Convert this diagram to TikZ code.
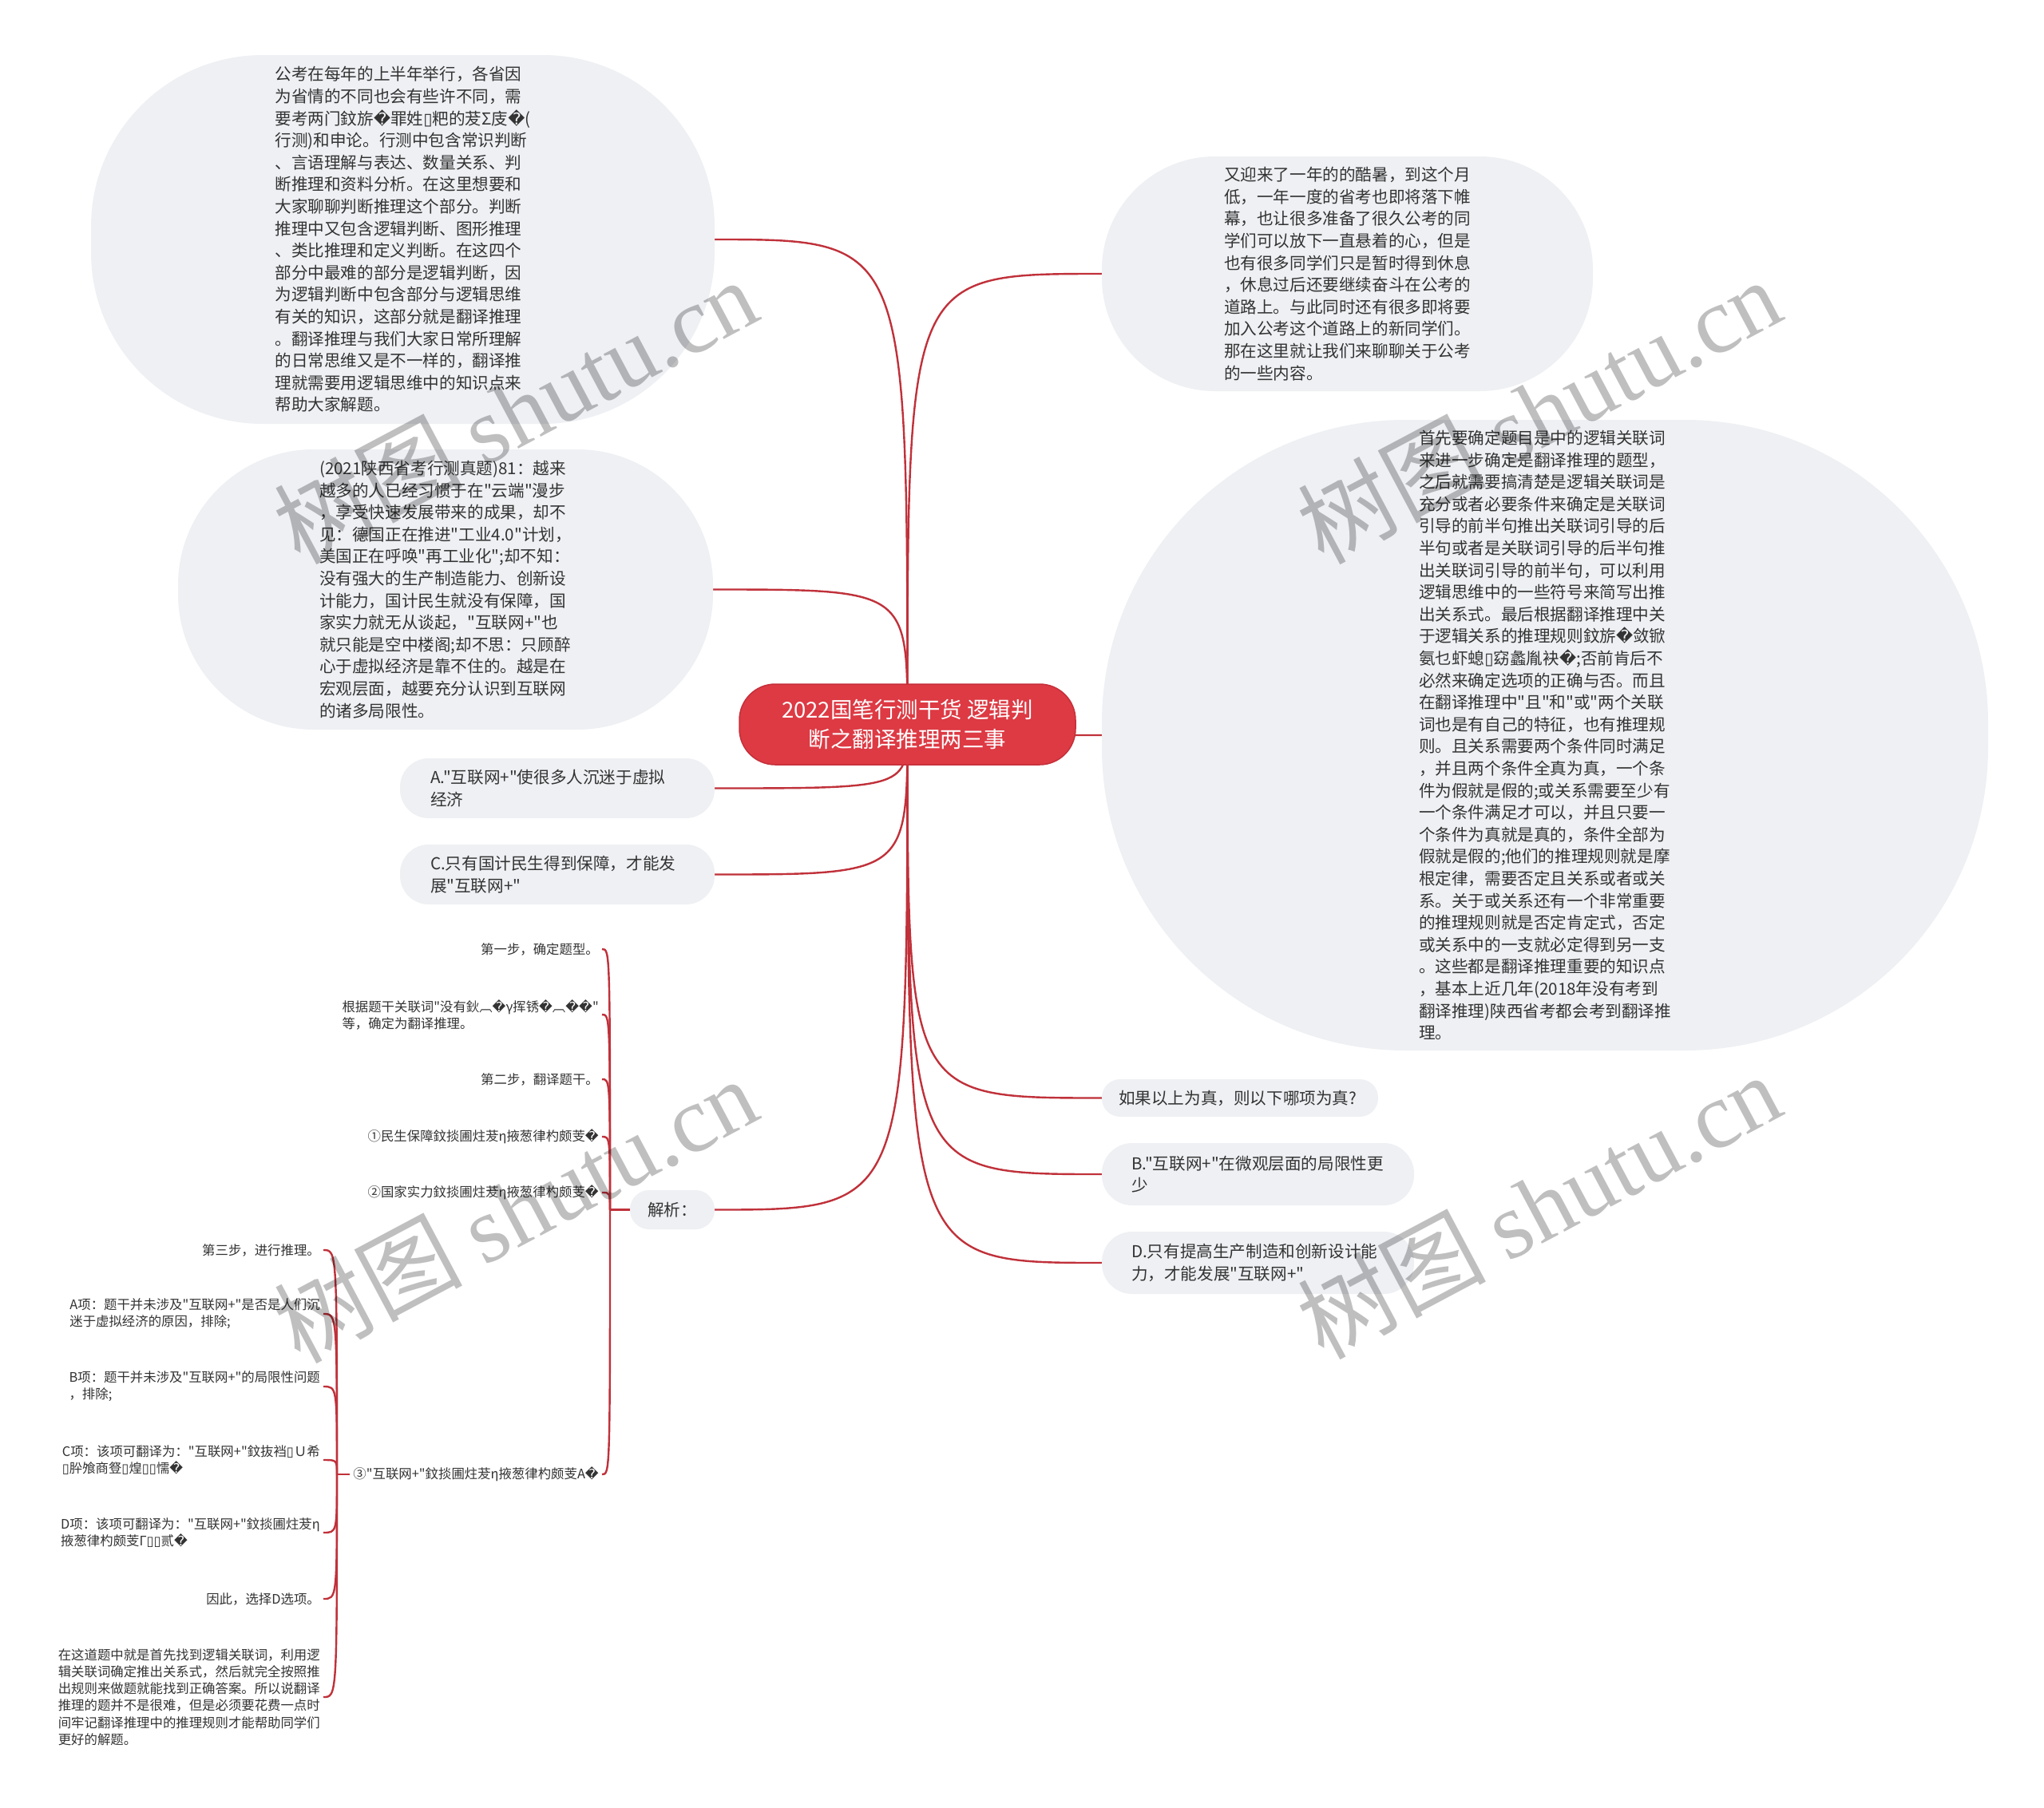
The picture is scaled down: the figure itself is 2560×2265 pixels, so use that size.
\documentclass[tikz,border=0pt]{standalone}
\usepackage{fontspec}
\newfontfamily\cjk{Noto Sans CJK SC}
\newfontfamily\dvs{DejaVu Sans}
\newfontfamily\wmserif{Liberation Serif}
\usetikzlibrary{calc}
\pgfdeclarelayer{background}
\pgfdeclarelayer{foreground}
\pgfsetlayers{background,main,foreground}
\definecolor{bub}{HTML}{EEF0F3}
\definecolor{txt}{HTML}{333333}
\definecolor{lnk}{HTML}{C0313A}
\definecolor{rootfill}{HTML}{DD3A44}
\definecolor{rootline}{HTML}{C52F39}
\newcommand\RP{{\dvs\symbol{"FFFD}}}
\newcommand\BX{{\dvs\symbol{"25AF}}}
\newcommand\bfnt{\cjk\fontsize{20.6pt}{27.6pt}\selectfont}
\newcommand\sfnt{\cjk\fontsize{16.4pt}{21.2pt}\selectfont}
\newcommand\rfnt{\cjk\fontsize{27.5pt}{37.5pt}\selectfont}
\newcommand\wfnt{\cjk\fontsize{118pt}{118pt}\selectfont}
\tikzset{
  rootbox/.style={fill=rootfill, draw=rootline, line width=1.5pt, rounded corners=45pt,
    minimum width=421pt, minimum height=101pt, align=center, text=white, font=\rfnt, inner sep=0pt},
  bubble/.style={fill=bub, align=left, text=txt, font=\bfnt, inner sep=0pt},
  pill/.style={fill=bub, align=left, text=txt, font=\bfnt, inner ysep=0pt},
  leaf/.style={align=left, text=txt, font=\sfnt, inner sep=4pt, anchor=east},
  conn/.style={draw=lnk, line width=2.4pt},
  wm/.style={rotate=28, font=\wfnt, text=black, text opacity=0.25, inner sep=0pt}
}
\begin{document}
\begin{tikzpicture}[x=1pt,y=-1pt]
\useasboundingbox (0,0) rectangle (2560,2265);

\node[rootbox] (root) at (1136.5,907.5) {2022国笔行测干货 逻辑判\\断之翻译推理两三事};

\node[bubble, rounded corners=215pt, minimum width=781pt, minimum height=462pt] (intro) at (504.5,300) {%
公考在每年的上半年举行，各省因\\
为省情的不同也会有些许不同，需\\
要考两门鈫旂\RP{}罪姓\BX{}粑的茇Σ庋\RP(\\
行测)和申论。行测中包含常识判断\\
、言语理解与表达、数量关系、判\\
断推理和资料分析。在这里想要和\\
大家聊聊判断推理这个部分。判断\\
推理中又包含逻辑判断、图形推理\\
、类比推理和定义判断。在这四个\\
部分中最难的部分是逻辑判断，因\\
为逻辑判断中包含部分与逻辑思维\\
有关的知识，这部分就是翻译推理\\
。翻译推理与我们大家日常所理解\\
的日常思维又是不一样的，翻译推\\
理就需要用逻辑思维中的知识点来\\
帮助大家解题。};

\node[bubble, rounded corners=170pt, minimum width=670pt, minimum height=351pt] (ques) at (558,738.5) {%
(2021陕西省考行测真题)81：越来\\
越多的人已经习惯于在"云端"漫步\\
，享受快速发展带来的成果，却不\\
见：德国正在推进"工业4.0"计划，\\
美国正在呼唤"再工业化";却不知：\\
没有强大的生产制造能力、创新设\\
计能力，国计民生就没有保障，国\\
家实力就无从谈起，"互联网+"也\\
就只能是空中楼阁;却不思：只顾醉\\
心于虚拟经济是靠不住的。越是在\\
宏观层面，越要充分认识到互联网\\
的诸多局限性。};

\node[bubble, rounded corners=142pt, minimum width=615pt, minimum height=294pt] (welc) at (1687.5,343) {%
又迎来了一年的的酷暑，到这个月\\
低，一年一度的省考也即将落下帷\\
幕，也让很多准备了很久公考的同\\
学们可以放下一直悬着的心，但是\\
也有很多同学们只是暂时得到休息\\
，休息过后还要继续奋斗在公考的\\
道路上。与此同时还有很多即将要\\
加入公考这个道路上的新同学们。\\
那在这里就让我们来聊聊关于公考\\
的一些内容。};

\node[bubble, rounded corners=380pt, minimum width=1110pt, minimum height=790pt] (know) at (1935,921) {%
首先要确定题目是中的逻辑关联词\\
来进一步确定是翻译推理的题型，\\
之后就需要搞清楚是逻辑关联词是\\
充分或者必要条件来确定是关联词\\
引导的前半句推出关联词引导的后\\
半句或者是关联词引导的后半句推\\
出关联词引导的前半句，可以利用\\
逻辑思维中的一些符号来简写出推\\
出关系式。最后根据翻译推理中关\\
于逻辑关系的推理规则鈫旂\RP{}敛锨\\
氨乜虾螅\BX{}窈蠡胤袂\RP;否前肯后不\\
必然来确定选项的正确与否。而且\\
在翻译推理中"且"和"或"两个关联\\
词也是有自己的特征，也有推理规\\
则。且关系需要两个条件同时满足\\
，并且两个条件全真为真，一个条\\
件为假就是假的;或关系需要至少有\\
一个条件满足才可以，并且只要一\\
个条件为真就是真的，条件全部为\\
假就是假的;他们的推理规则就是摩\\
根定律，需要否定且关系或者或关\\
系。关于或关系还有一个非常重要\\
的推理规则就是否定肯定式，否定\\
或关系中的一支就必定得到另一支\\
。这些都是翻译推理重要的知识点\\
，基本上近几年(2018年没有考到\\
翻译推理)陕西省考都会考到翻译推\\
理。};

\node[pill, rounded corners=36pt, inner xsep=38pt, text width=318pt, minimum height=75pt] (A) at (698,987.5) {A."互联网+"使很多人沉迷于虚拟\\经济};
\node[pill, rounded corners=36pt, inner xsep=38pt, text width=318pt, minimum height=75pt] (C) at (698,1095.5) {C.只有国计民生得到保障，才能发\\展"互联网+"};
\node[pill, rounded corners=24pt, inner xsep=22pt, text width=62pt, minimum height=49pt] (jx) at (842,1515.5) {解析：};
\node[pill, rounded corners=23pt, inner xsep=21pt, text width=304pt, minimum height=47pt] (Q) at (1553,1375.5) {如果以上为真，则以下哪项为真?};
\node[pill, rounded corners=38pt, inner xsep=37pt, text width=317pt, minimum height=78pt] (B) at (1575.5,1471) {B."互联网+"在微观层面的局限性更\\少};
\node[pill, rounded corners=38pt, inner xsep=37pt, text width=317pt, minimum height=78pt] (D) at (1575.5,1582) {D.只有提高生产制造和创新设计能\\力，才能发展"互联网+"};

% 解析 children
\node[leaf] (s1) at (754,1189) {第一步，确定题型。};
\node[leaf] (s2) at (754,1271) {根据题干关联词"没有鈥︹\RP{}γ挥锈\RP{}︹\RP\RP"\\等，确定为翻译推理。};
\node[leaf] (s3) at (754,1352) {第二步，翻译题干。};
\node[leaf] (s4) at (754,1424) {①民生保障鈫掞圃炷茇η掖葱律杓颇芰\RP};
\node[leaf] (s5) at (754,1494) {②国家实力鈫掞圃炷茇η掖葱律杓颇芰\RP};
\node[leaf] (s6) at (754,1847) {③"互联网+"鈫掞圃炷茇η掖葱律杓颇芰A\RP};

% ③ children
\node[leaf] (t1) at (405,1566) {第三步，进行推理。};
\node[leaf] (t2) at (405,1646) {A项：题干并未涉及"互联网+"是否是人们沉\\迷于虚拟经济的原因，排除;};
\node[leaf] (t3) at (405,1737) {B项：题干并未涉及"互联网+"的局限性问题\\，排除;};
\node[leaf] (t4) at (405,1829) {C项：该项可翻译为："互联网+"鈫抜裆\BX{}Ｕ希\\\BX{}肸飧商豋\BX{}煌\BX\BX{}懦\RP};
\node[leaf] (t5) at (405,1920) {D项：该项可翻译为："互联网+"鈫掞圃炷茇η\\掖葱律杓颇芰Г\BX\BX{}贰\RP};
\node[leaf] (t6) at (405,2003) {因此，选择D选项。};
\node[leaf] (t7) at (405,2126) {在这道题中就是首先找到逻辑关联词，利用逻\\辑关联词确定推出关系式，然后就完全按照推\\出规则来做题就能找到正确答案。所以说翻译\\推理的题并不是很难，但是必须要花费一点时\\间牢记翻译推理中的推理规则才能帮助同学们\\更好的解题。};

\coordinate (b1) at (764,1515.5);
\coordinate (b3) at (422,1847);

\begin{pgfonlayer}{background}
\fill[white] (0,0) rectangle (2560,2265);
\foreach \n in {intro,ques,A,C,jx}
  \draw[conn] (root.center) .. controls (root.center |- \n.east) .. (\n.east);
\foreach \n in {welc,know,Q,B,D}
  \draw[conn] (root.center) .. controls (root.center |- \n.west) .. (\n.west);
\draw[conn] (jx.west) -- (b1);
\foreach \n in {s1,s2,s3,s4,s5,s6}
  \draw[conn] (b1) .. controls (b1 |- \n.east) .. (\n.east);
\draw[conn] (s6.west) -- (b3);
\foreach \n in {t1,t2,t3,t4,t5,t6,t7}
  \draw[conn] (b3) .. controls (b3 |- \n.east) .. (\n.east);
\end{pgfonlayer}

\begin{pgfonlayer}{foreground}
\node[wm] (wm1) at (645,514) {树图 {\wmserif shutu.cn}};
\node[wm] (wm2) at (1927,514) {树图 {\wmserif shutu.cn}};
\node[wm] (wm3) at (645,1515) {树图 {\wmserif shutu.cn}};
\node[wm] (wm4) at (1927,1510) {树图 {\wmserif shutu.cn}};
\end{pgfonlayer}
\end{tikzpicture}
\end{document}
